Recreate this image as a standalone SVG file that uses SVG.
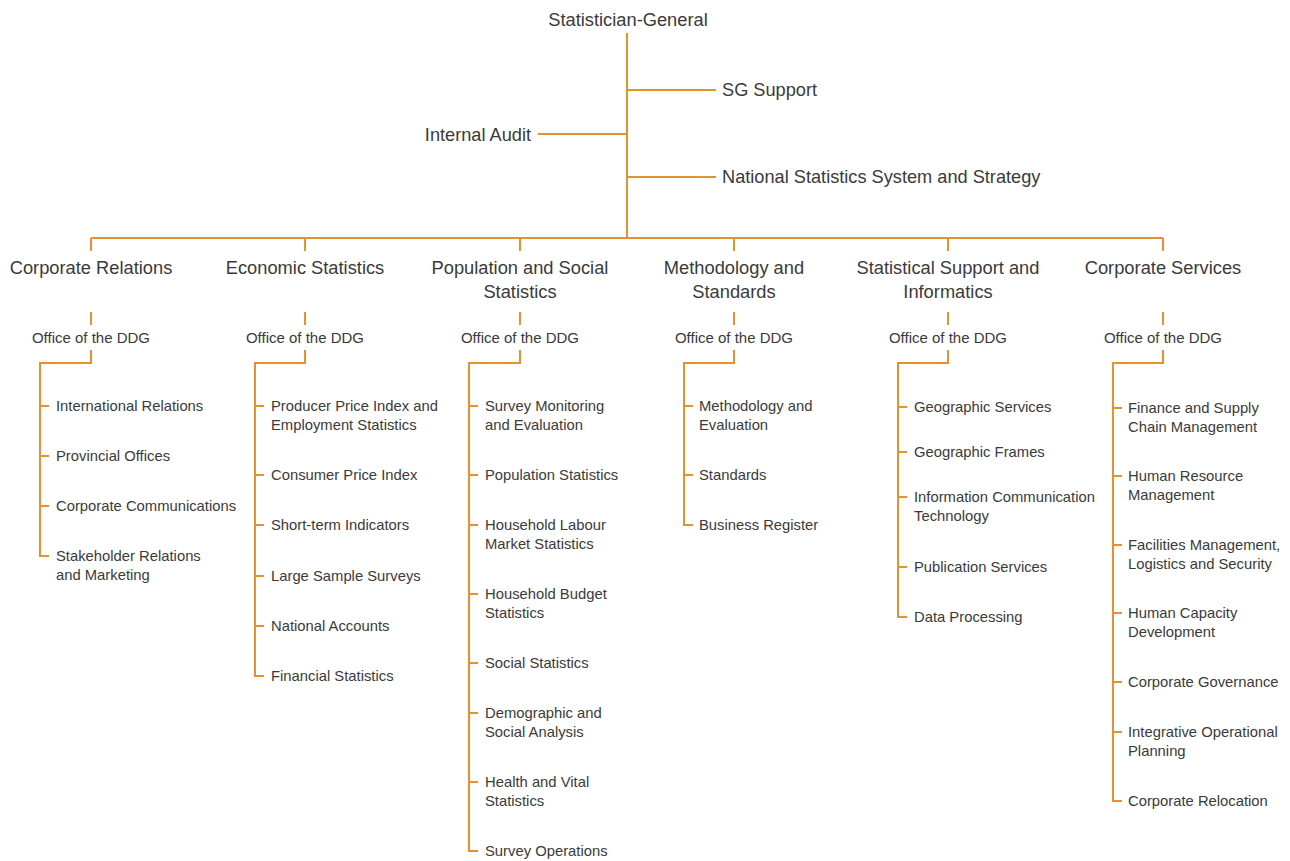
<svg xmlns="http://www.w3.org/2000/svg" width="1290" height="861" viewBox="0 0 1290 861">
<style>
.ln{stroke:#E3922F;stroke-width:2;fill:none}
text{font-family:"Liberation Sans",Arial,sans-serif;fill:#3a3a3a}
.t1{font-size:18.2px}
.h{font-size:18.3px;text-anchor:middle}
.o{font-size:15px;text-anchor:middle}
.i{font-size:14.8px}
</style>
<rect width="1290" height="861" fill="#fff"/>
<g id="connectors">
<path class="ln" d="M627 33V238M627 90H716M538 134H627M627 177H716M91 238H1163"/>
<path class="ln" d="M91 238V251M305 238V251M520 238V251M734 238V251M948 238V251M1163 238V251"/>
<path class="ln" d="M91 312V325M305 312V325M520 312V325M734 312V325M948 312V325M1163 312V325"/>
<path class="ln" d="M91 350V363H40V556H49M40 406H49M40 456H49M40 506H49"/>
<path class="ln" d="M305 350V363H255V676H264M255 406H264M255 475H264M255 525H264M255 576H264M255 626H264"/>
<path class="ln" d="M520 350V363H469V851H478M469 406H478M469 475H478M469 525H478M469 594H478M469 663H478M469 713H478M469 782H478"/>
<path class="ln" d="M734 350V363H684V525H693M684 406H693M684 475H693"/>
<path class="ln" d="M948 350V363H898V617H907M898 407H907M898 452H907M898 497H907M898 567H907"/>
<path class="ln" d="M1163 350V363H1113V801H1122M1113 408H1122M1113 476H1122M1113 545H1122M1113 613H1122M1113 682H1122M1113 732H1122"/>
</g>
<g id="sg"><text class="h" x="628" y="26">Statistician-General</text></g>
<g id="sgsupport"><text class="t1" x="722" y="96">SG Support</text></g>
<g id="audit"><text class="t1" x="531" y="141" text-anchor="end">Internal Audit</text></g>
<g id="nsss"><text class="t1" x="722" y="183">National Statistics System and Strategy</text></g>
<g id="col1">
<text class="h" x="91" y="274">Corporate Relations</text>
<text class="o" x="91" y="343">Office of the DDG</text>
<text class="i" x="56" y="411">International Relations</text>
<text class="i" x="56" y="461">Provincial Offices</text>
<text class="i" x="56" y="511">Corporate Communications</text>
<text class="i" x="56" y="561">Stakeholder Relations<tspan x="56" dy="19">and Marketing</tspan></text>
</g>
<g id="col2">
<text class="h" x="305" y="274">Economic Statistics</text>
<text class="o" x="305" y="343">Office of the DDG</text>
<text class="i" x="271" y="411">Producer Price Index and<tspan x="271" dy="19">Employment Statistics</tspan></text>
<text class="i" x="271" y="480">Consumer Price Index</text>
<text class="i" x="271" y="530">Short-term Indicators</text>
<text class="i" x="271" y="581">Large Sample Surveys</text>
<text class="i" x="271" y="631">National Accounts</text>
<text class="i" x="271" y="681">Financial Statistics</text>
</g>
<g id="col3">
<text class="h" x="520" y="274">Population and Social<tspan x="520" dy="24">Statistics</tspan></text>
<text class="o" x="520" y="343">Office of the DDG</text>
<text class="i" x="485" y="411">Survey Monitoring<tspan x="485" dy="19">and Evaluation</tspan></text>
<text class="i" x="485" y="480">Population Statistics</text>
<text class="i" x="485" y="530">Household Labour<tspan x="485" dy="19">Market Statistics</tspan></text>
<text class="i" x="485" y="599">Household Budget<tspan x="485" dy="19">Statistics</tspan></text>
<text class="i" x="485" y="668">Social Statistics</text>
<text class="i" x="485" y="718">Demographic and<tspan x="485" dy="19">Social Analysis</tspan></text>
<text class="i" x="485" y="787">Health and Vital<tspan x="485" dy="19">Statistics</tspan></text>
<text class="i" x="485" y="856">Survey Operations</text>
</g>
<g id="col4">
<text class="h" x="734" y="274">Methodology and<tspan x="734" dy="24">Standards</tspan></text>
<text class="o" x="734" y="343">Office of the DDG</text>
<text class="i" x="699" y="411">Methodology and<tspan x="699" dy="19">Evaluation</tspan></text>
<text class="i" x="699" y="480">Standards</text>
<text class="i" x="699" y="530">Business Register</text>
</g>
<g id="col5">
<text class="h" x="948" y="274">Statistical Support and<tspan x="948" dy="24">Informatics</tspan></text>
<text class="o" x="948" y="343">Office of the DDG</text>
<text class="i" x="914" y="412">Geographic Services</text>
<text class="i" x="914" y="457">Geographic Frames</text>
<text class="i" x="914" y="502">Information Communication<tspan x="914" dy="19">Technology</tspan></text>
<text class="i" x="914" y="572">Publication Services</text>
<text class="i" x="914" y="622">Data Processing</text>
</g>
<g id="col6">
<text class="h" x="1163" y="274">Corporate Services</text>
<text class="o" x="1163" y="343">Office of the DDG</text>
<text class="i" x="1128" y="413">Finance and Supply<tspan x="1128" dy="19">Chain Management</tspan></text>
<text class="i" x="1128" y="481">Human Resource<tspan x="1128" dy="19">Management</tspan></text>
<text class="i" x="1128" y="550">Facilities Management,<tspan x="1128" dy="19">Logistics and Security</tspan></text>
<text class="i" x="1128" y="618">Human Capacity<tspan x="1128" dy="19">Development</tspan></text>
<text class="i" x="1128" y="687">Corporate Governance</text>
<text class="i" x="1128" y="737">Integrative Operational<tspan x="1128" dy="19">Planning</tspan></text>
<text class="i" x="1128" y="806">Corporate Relocation</text>
</g>
</svg>
